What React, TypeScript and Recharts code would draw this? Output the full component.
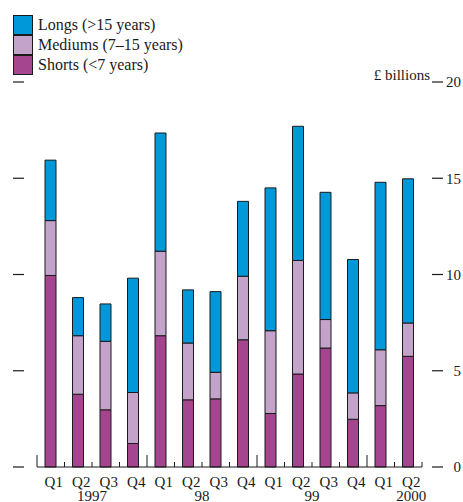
import React from "react";
import { BarChart, Bar, XAxis, YAxis, Legend } from "recharts";

const quarters = ["Q1", "Q2", "Q3", "Q4", "Q1", "Q2", "Q3", "Q4", "Q1", "Q2", "Q3", "Q4", "Q1", "Q2"];
const years = ["", "1997", "", "", "", "98", "", "", "", "99", "", "", "", "2000"];
const shorts = [9.95, 3.78, 2.97, 1.22, 6.82, 3.49, 3.54, 6.61, 2.78, 4.83, 6.18, 2.48, 3.19, 5.75];
const mediums = [2.85, 3.04, 3.56, 2.65, 4.39, 2.95, 1.38, 3.3, 4.3, 5.9, 1.48, 1.37, 2.9, 1.73];
const longs = [3.14, 1.98, 1.94, 5.94, 6.14, 2.76, 4.19, 3.89, 7.42, 6.97, 6.61, 6.93, 8.7, 7.49];
const yTicks = [0, 5, 10, 15, 20];
const yTickLabels = ["0", "5", "10", "15", "20"];
const unitLabel = "£ billions";
const legendOrder = ["longs", "mediums", "shorts"];

const data = quarters.map((q, i) => ({
  q,
  year: years[i],
  shorts: shorts[i],
  mediums: mediums[i],
  longs: longs[i],
}));

const W = 463;
const H = 502;
const LEFT_W = 37;
const RIGHT_W = 41;
const PLOT_W = W - LEFT_W - RIGHT_W;
const BAND = PLOT_W / quarters.length;
const FONT = '"Liberation Serif", "Times New Roman", serif';
const INK = "#1a1a1a";

const C_LONG = "#0098d8";
const C_MED = "#c4a3ca";
const C_SHORT = "#a5458f";

const XTick = (props: any) => {
  const { x, y, payload } = props;
  const i: number = payload.index;
  const left = x - BAND / 2;
  const last = i === quarters.length - 1;
  const yr = years[i];
  return (
    <g>
      <line x1={left} x2={left} y1={y} y2={y - (i % 4 === 0 ? 12 : 5)} stroke={INK} strokeWidth={1} />
      {last && <line x1={x + BAND / 2} x2={x + BAND / 2} y1={y} y2={y - 5} stroke={INK} strokeWidth={1} />}
      <text x={x + 3} y={y + 20} textAnchor="middle" fontFamily={FONT} fontSize={15} fill={INK}>
        {payload.value}
      </text>
      {yr && (
        <text x={last ? x + 3 : x + BAND / 2} y={y + 34} textAnchor="middle" fontFamily={FONT} fontSize={15} fill={INK}>
          {yr}
        </text>
      )}
    </g>
  );
};

// Left axis tick marks, plus the mirrored right-hand scale (ticks, labels, unit)
const YTick = (props: any) => {
  const { x, y, payload } = props;
  const idx = yTicks.indexOf(payload.value);
  const rx = x + PLOT_W;
  return (
    <g>
      <line x1={x - 24} x2={x - 13} y1={y} y2={y} stroke={INK} strokeWidth={1.2} />
      <line x1={rx + 10} x2={rx + 21} y1={y} y2={y} stroke={INK} strokeWidth={1.2} />
      <text x={rx + 39} y={y} dy="0.35em" textAnchor="end" fontFamily={FONT} fontSize={15} fill={INK}>
        {yTickLabels[idx]}
      </text>
      {payload.value === 20 && (
        <text x={rx + 8} y={y - 2} textAnchor="end" fontFamily={FONT} fontSize={15} fill={INK}>
          {unitLabel}
        </text>
      )}
    </g>
  );
};

const LegendContent = (props: any) => {
  const items = [...(props.payload || [])].sort(
    (a: any, b: any) => legendOrder.indexOf(a.dataKey) - legendOrder.indexOf(b.dataKey)
  );
  return (
    <div style={{ fontFamily: FONT, fontSize: 16, color: INK }}>
      {items.map((it: any) => (
        <div key={it.value} style={{ display: "flex", alignItems: "center", height: 20 }}>
          <div
            style={{
              width: 20,
              height: 20,
              boxSizing: "border-box",
              border: `1px solid ${INK}`,
              background: it.color,
            }}
          />
          <span style={{ marginLeft: 5, lineHeight: "20px", whiteSpace: "nowrap" }}>{it.value}</span>
        </div>
      ))}
    </div>
  );
};

export default function App() {
  return (
    <div style={{ position: "absolute", left: 0, top: 0, width: W, height: H, background: "#fff" }}>
      <BarChart
        width={W}
        height={H}
        data={data}
        margin={{ top: 82, right: RIGHT_W, bottom: 0, left: 0 }}
        barCategoryGap={0}
        barSize={11}
      >
        <XAxis
          dataKey="q"
          xAxisId="x"
          height={35}
          interval={0}
          tickSize={0}
          tickMargin={0}
          tickLine={false}
          axisLine={{ stroke: INK, strokeWidth: 1.2 }}
          tick={<XTick />}
        />
        <YAxis
          yAxisId="left"
          orientation="left"
          width={LEFT_W}
          domain={[0, 20]}
          ticks={yTicks}
          interval={0}
          tickSize={0}
          tickMargin={0}
          tickLine={false}
          axisLine={false}
          tick={<YTick />}
        />
        <Legend
          layout="horizontal"
          verticalAlign="middle"
          align="center"
          content={<LegendContent />}
          wrapperStyle={{ top: 15, left: 13, width: "auto", margin: 0 }}
        />
        <Bar dataKey="shorts" name="Shorts (<7 years)" stackId="a" xAxisId="x" yAxisId="left" fill={C_SHORT} stroke={INK} strokeWidth={1} isAnimationActive={false} />
        <Bar dataKey="mediums" name="Mediums (7–15 years)" stackId="a" xAxisId="x" yAxisId="left" fill={C_MED} stroke={INK} strokeWidth={1} isAnimationActive={false} />
        <Bar dataKey="longs" name="Longs (>15 years)" stackId="a" xAxisId="x" yAxisId="left" fill={C_LONG} stroke={INK} strokeWidth={1} isAnimationActive={false} />
      </BarChart>
    </div>
  );
}
